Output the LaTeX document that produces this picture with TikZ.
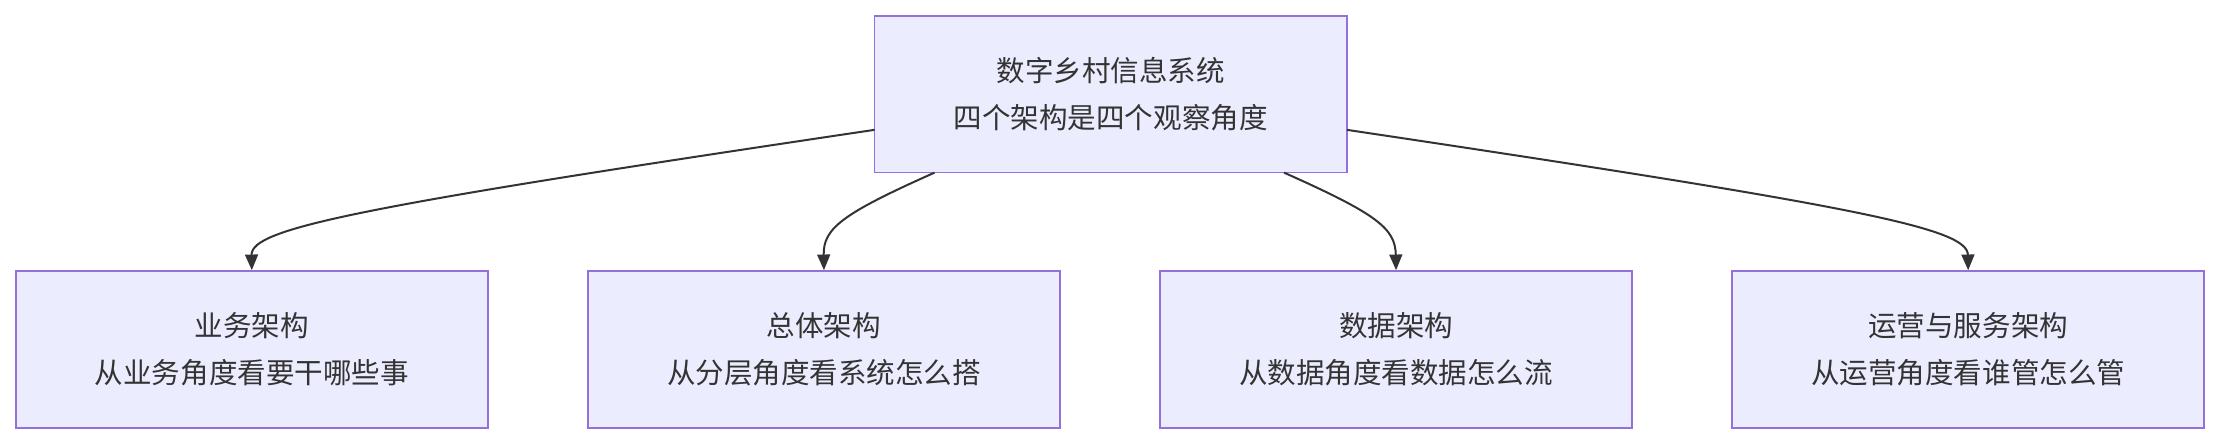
\documentclass[tikz,border=0pt]{standalone}
\usepackage{fontspec}
\newfontfamily\cjk{Noto Sans CJK SC}
\usetikzlibrary{arrows.meta}
\definecolor{boxfill}{HTML}{ECECFF}
\definecolor{boxline}{HTML}{9370DB}
\definecolor{ink}{HTML}{333333}
\begin{document}
\begin{tikzpicture}[x=1pt,y=-1pt,
  box/.style={draw=boxline,line width=1.2pt,fill=boxfill,minimum width=331pt,minimum height=110pt,inner sep=0pt,align=center,font=\cjk\fontsize{20}{33}\selectfont,text=ink},
  conn/.style={draw=ink,line width=1.4pt,-{Triangle[length=11pt,width=9pt]}}]
\useasboundingbox (0,0) rectangle (1556,311);
\node[box] (top) at (778.5,66) {数字乡村信息系统\\四个架构是四个观察角度};
\node[box] (a) at (176.5,245) {业务架构\\从业务角度看要干哪些事};
\node[box] (b) at (577.5,245) {总体架构\\从分层角度看系统怎么搭};
\node[box] (c) at (978.5,245) {数据架构\\从数据角度看数据怎么流};
\node[box] (d) at (1379.5,245) {运营与服务架构\\从运营角度看谁管怎么管};
\coordinate (t1) at (613,91);
\coordinate (t2) at (655,121);
\coordinate (t3) at (900,121);
\coordinate (t4) at (944,91);
\draw[conn] (t1) .. controls (250,145) and (176,160) .. (a.north);
\draw[conn] (t2) .. controls (590,150) and (577,160) .. (b.north);
\draw[conn] (t3) .. controls (965,150) and (978,160) .. (c.north);
\draw[conn] (t4) .. controls (1305,145) and (1379,160) .. (d.north);
\end{tikzpicture}
\end{document}
